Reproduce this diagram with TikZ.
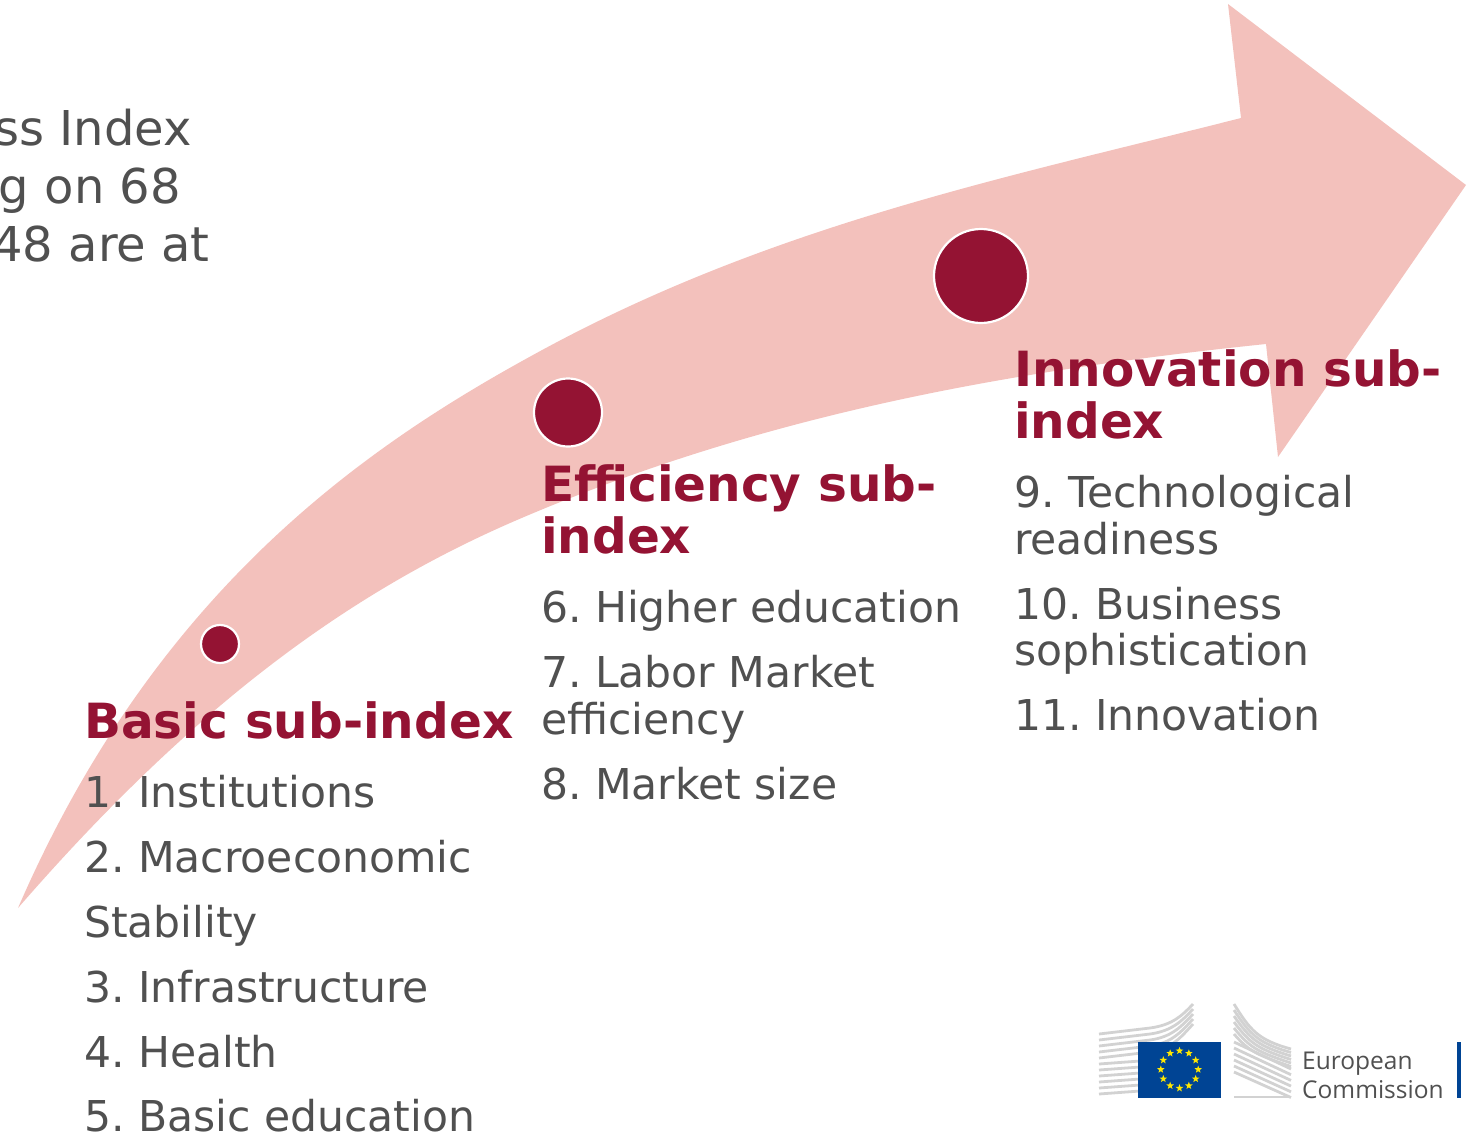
\documentclass[tikz,border=0pt]{standalone}
\usepackage{fontspec}
\setmainfont{DejaVu Sans}
\newfontfamily\logofont{Open Sans}
\usetikzlibrary{shapes.geometric,calc}
\definecolor{arrowpink}{HTML}{F3C1BC}
\definecolor{darkred}{HTML}{941333}
\definecolor{bodygrey}{HTML}{505050}
\definecolor{eublue}{HTML}{004494}
\definecolor{bldg}{HTML}{D2D2D2}
\tikzset{
  x=1pt,y=-1pt,
  bodytxt/.style={anchor=base west,inner sep=0pt,text=bodygrey,font=\fontsize{42.5}{46}\selectfont},
  introtxt/.style={anchor=base east,inner sep=0pt,text=bodygrey,font=\fontsize{48}{50}\selectfont},
  headtxt/.style={anchor=base west,inner sep=0pt,text=darkred,font=\fontsize{48.5}{50}\selectfont\bfseries},
  dot/.style={circle,fill=darkred,draw=white,line width=2.2pt,inner sep=0pt,minimum size=#1},
  bldgline/.style={draw=bldg,line width=2.8pt},
  eustar/.style={star,star points=5,star point ratio=2.4,fill=yellow!90!orange,inner sep=0pt,minimum size=8pt},
  logotxt/.style={anchor=base west,inner sep=0pt,text=bodygrey,font=\logofont\fontsize{24.5}{28}\selectfont}
}
\frenchspacing
\begin{document}
\begin{tikzpicture}
\useasboundingbox (0,0) rectangle (1476,1133);
\clip (0,0) rectangle (1476,1133);
% arrow
\fill[arrowpink] (18,908) .. controls (155,592) and (363,448) .. (533,355)
  .. controls (769,225) and (1005,178) .. (1241,118)
  -- (1228,4) -- (1466,185) -- (1278,457) -- (1266,344)
  .. controls (1016,370) and (767,412.5) .. (517,520)
  .. controls (345,594) and (190,710) .. (18,908) -- cycle;
% dots
\node[dot=38pt] (d1) at (220,644) {};
\node[dot=68pt] (d2) at (568,412.5) {};
\node[dot=94pt] (d3) at (981,276) {};
% intro
\node[introtxt] (i1) at (192,145) {ss Index};
\node[introtxt] (i2) at (181,203) {g on 68};
\node[introtxt] (i3) at (210,261) {48 are at};
% col 1
\node[headtxt] (h1) at (84,738.5) {Basic sub-index};
\node[bodytxt] (a1) at (84,807) {1. Institutions};
\node[bodytxt] (a2) at (84,872) {2. Macroeconomic};
\node[bodytxt] (a2b) at (84,937) {Stability};
\node[bodytxt] (a3) at (84,1002) {3. Infrastructure};
\node[bodytxt] (a4) at (84,1067) {4. Health};
\node[bodytxt] (a5) at (84,1131) {5. Basic education};
% col 2
\node[headtxt] (h2) at (541,501.5) {Efficiency sub-};
\node[headtxt] (h2b) at (541,553.5) {index};
\node[bodytxt] (b1) at (541,622) {6. Higher education};
\node[bodytxt] (b2) at (541,687) {7. Labor Market};
\node[bodytxt] (b2b) at (541,734) {efficiency};
\node[bodytxt] (b3) at (541,799) {8. Market size};
% col 3
\node[headtxt] (h3) at (1014,386.5) {Innovation sub-};
\node[headtxt] (h3b) at (1014,438.5) {index};
\node[bodytxt] (c1) at (1014,507) {9. Technological};
\node[bodytxt] (c1b) at (1014,554) {readiness};
\node[bodytxt] (c2) at (1014,619) {10. Business};
\node[bodytxt] (c2b) at (1014,665) {sophistication};
\node[bodytxt] (c3) at (1014,730) {11. Innovation};
% logo: left building
\foreach \i in {0,...,4}{
  \draw[bldgline] (1099,1034+6*\i) -- (1150,1028+6*\i) .. controls (1172,1025+6*\i) and (1182,1016+5*\i) .. (1193,1004+5*\i);
}
\foreach \i in {5,...,10}{
  \draw[bldgline] (1099,1034+6*\i) -- (1140,1031+6*\i);
}
% logo: right building
\foreach \i in {0,...,5}{
  \draw[bldgline] (1234,1004+6*\i) .. controls (1250,1030+4.5*\i) and (1258,1040+3*\i) .. (1291,1049+3.5*\i);
}
\foreach \i in {0,...,5}{
  \draw[bldgline] (1234,1042+6*\i) -- (1291,1069+5.7*\i);
}
\draw[bldgline] (1234,1097) -- (1291,1097);
% flag
\node[rectangle,fill=eublue,inner sep=0pt,minimum width=83pt,minimum height=56pt] (flag) at (1179.5,1069.5) {};
\foreach \a in {0,30,...,330}{
  \node[eustar] (s\a) at ($(flag.center)+(\a:18.7)$) {};
}
% logo: text and bar
\node[logotxt] (l1) at (1302,1069) {European};
\node[logotxt] (l2) at (1302,1098) {Commission};
\node[rectangle,fill=eublue,inner sep=0pt,minimum width=4.5pt,minimum height=56pt] (bar) at (1459,1070) {};
\end{tikzpicture}
\end{document}
